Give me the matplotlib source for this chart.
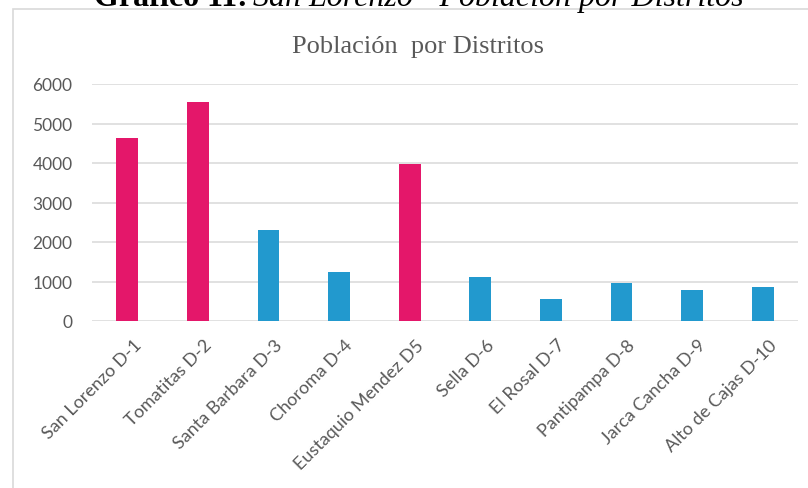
import matplotlib
matplotlib.use("Agg")
import matplotlib.pyplot as plt
from matplotlib.patches import Rectangle

distritos = ["San Lorenzo D-1", "Tomatitas D-2", "Santa Barbara D-3", "Choroma D-4",
             "Eustaquio Mendez D5", "Sella D-6", "El Rosal D-7", "Pantipampa D-8",
             "Jarca Cancha D-9", "Alto de Cajas D-10"]
poblacion = [4625, 5535, 2315, 1250, 3985, 1105, 560, 955, 780, 855]
urbano = [True, True, False, False, True, False, False, False, False, False]

ROSA = "#E4176A"
AZUL = "#2299CE"
GRIS = "#595959"

W, H = 808, 489
fig = plt.figure(figsize=(W / 100, H / 100), dpi=100)

def fx(px):
    return px / W

def fy(py):
    return 1 - py / H

# marco del gráfico
fig.patches.append(Rectangle((fx(12.5), fy(600)), 1.2, fy(9.5) - fy(600),
                             transform=fig.transFigure, fill=False,
                             edgecolor="#d9d9d9", linewidth=1.2, clip_on=False))

# leyenda del documento (cortada arriba)
fig.text(fx(248), fy(6), "Gráfico 11:", ha="right", va="baseline",
         fontfamily="Liberation Serif", fontweight="bold", fontsize=23, color="black")
fig.text(fx(253), fy(6), "San Lorenzo - Población por Distritos", ha="left", va="baseline",
         fontfamily="Liberation Serif", fontstyle="italic", fontsize=23, color="black")

ax = fig.add_axes([fx(92), fy(322), fx(798) - fx(92), fy(85) - fy(322)])
colores = [ROSA if u else AZUL for u in urbano]
x = range(len(distritos))
ax.bar(x, poblacion, width=0.31, color=colores, zorder=3)

ax.set_xlim(-0.5, len(distritos) - 0.5)
ax.set_ylim(0, 6000)
ax.set_yticks(range(0, 6001, 1000))
ax.grid(axis="y", color="#d9d9d9", linewidth=1.1, zorder=0)
for s in ax.spines.values():
    s.set_visible(False)
ax.tick_params(length=0, colors=GRIS)
ax.tick_params(axis="y", pad=14, labelsize=12.5)
ax.set_xticks([i + 0.08 for i in x])
ax.set_xticklabels(distritos, rotation=45, ha="right", rotation_mode="anchor",
                   fontsize=13, color=GRIS)
ax.tick_params(axis="x", pad=11)
for lbl in ax.get_xticklabels() + ax.get_yticklabels():
    lbl.set_fontfamily("Lato")

fig.text(fx(418), fy(53), "Población  por Distritos", ha="center", va="baseline",
         fontfamily="Liberation Serif", fontsize=19, color=GRIS)

fig.savefig("out.png", dpi=100)
